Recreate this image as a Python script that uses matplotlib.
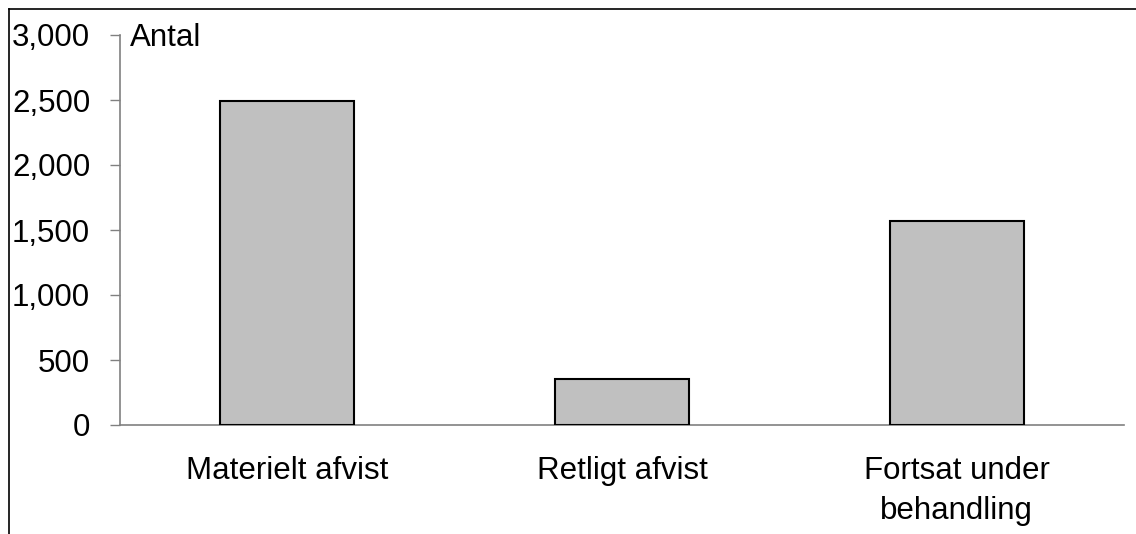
import matplotlib.pyplot as plt
from matplotlib.lines import Line2D

# data
categories = ['Materielt afvist', 'Retligt afvist', 'Fortsat under\nbehandling']
values = [2490, 355, 1570]
yticks = [0, 500, 1000, 1500, 2000, 2500, 3000]

plt.rcParams['font.family'] = ['Liberation Sans', 'DejaVu Sans']

fig = plt.figure(figsize=(11.36, 5.34), dpi=100)
W, H = 1136, 534
ax = fig.add_axes([120 / W, (H - 425) / H, 1004 / W, 390 / H])

x = range(len(categories))
ax.bar(x, values, width=0.4, color='#c0c0c0', edgecolor='black', linewidth=1.5, zorder=3)

ax.set_xlim(-0.5, 2.5)
ax.set_ylim(0, 3000)
ax.set_yticks(yticks)
ax.set_yticklabels(['{:,}'.format(v) for v in yticks])
ax.set_xticks(list(x))
ax.set_xticklabels(categories, linespacing=1.45)

for s in ['top', 'right']:
    ax.spines[s].set_visible(False)
for s in ['left', 'bottom']:
    ax.spines[s].set_color('#808080')
    ax.spines[s].set_linewidth(1.2)

ax.tick_params(axis='y', direction='out', length=7.5, width=1, color='#808080',
               labelsize=22.5, pad=14)
ax.tick_params(axis='x', length=0, labelsize=22.5, pad=22)

ax.text(130 / W, (H - 38) / H, 'Antal', transform=fig.transFigure, fontsize=22.5,
        va='center', ha='left')

# outer frame (left and top lines)
fig.add_artist(Line2D([8.5 / W, 8.5 / W], [0, (H - 9) / H], transform=fig.transFigure,
                      color='black', linewidth=1.2))
fig.add_artist(Line2D([8.5 / W, 1], [(H - 9) / H, (H - 9) / H], transform=fig.transFigure,
                      color='black', linewidth=1.2))

fig.savefig('out.png', dpi=100)
